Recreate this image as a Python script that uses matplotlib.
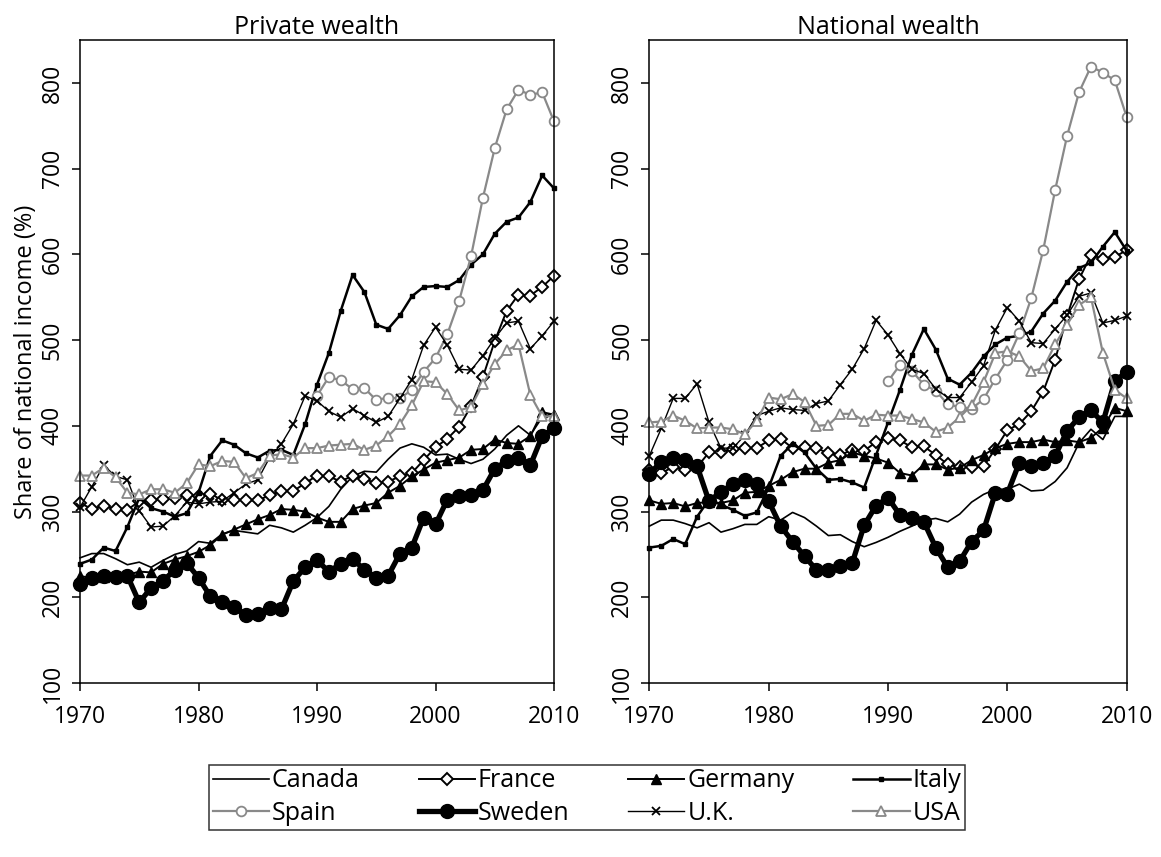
import numpy as np
import matplotlib
matplotlib.use('Agg')
import matplotlib.pyplot as plt
from matplotlib.lines import Line2D

plt.rcParams['font.family'] = ['Open Sans', 'DejaVu Sans']

years = np.arange(1970, 2011)
spain_years = np.arange(1990, 2011)

# private wealth, % of national income
canada_p = [246, 251, 251, 245, 238, 241, 235, 243, 250, 254, 265, 263, 274, 278, 276, 274, 284, 281, 276, 284,
            293, 306, 326, 341, 347, 346, 361, 374, 379, 375, 366, 367, 361, 356, 361, 373, 389, 400, 389, 410, 415]
france_p = [310, 303, 307, 303, 302, 312, 313, 315, 316, 319, 318, 321, 313, 314, 313, 313, 319, 324, 324, 333,
            342, 341, 335, 342, 338, 333, 335, 341, 345, 360, 375, 385, 399, 423, 457, 499, 534, 553, 552, 562, 575]
germany_p = [225, 222, 224, 225, 226, 230, 229, 239, 244, 248, 253, 261, 273, 279, 285, 291, 296, 303, 302, 300,
             293, 288, 288, 303, 307, 310, 322, 330, 341, 349, 357, 360, 363, 372, 373, 384, 380, 379, 388, 416, 413]
italy_p = [239, 244, 258, 254, 282, 316, 304, 300, 294, 298, 322, 365, 383, 378, 368, 363, 371, 372, 366, 402,
           448, 485, 534, 576, 556, 518, 513, 529, 551, 562, 563, 562, 570, 588, 600, 624, 638, 643, 661, 692, 677]
spain_p = [435, 457, 453, 443, 444, 430, 433, 432, 442, 463, 479, 507, 546, 598, 666, 724, 769, 792, 786, 789, 755]
sweden_p = [216, 223, 225, 224, 225, 194, 211, 219, 232, 240, 223, 201, 194, 189, 179, 180, 188, 186, 219, 235,
            243, 230, 239, 245, 232, 223, 225, 251, 258, 293, 285, 314, 318, 319, 325, 350, 359, 363, 354, 388, 397]
uk_p = [305, 329, 354, 341, 337, 301, 282, 283, 295, 311, 309, 311, 312, 322, 332, 337, 363, 379, 402, 435,
        429, 417, 410, 420, 412, 404, 411, 432, 454, 494, 515, 494, 466, 465, 482, 502, 520, 522, 490, 505, 522]
usa_p = [342, 342, 351, 340, 322, 320, 326, 326, 322, 333, 355, 353, 359, 358, 339, 345, 365, 367, 363, 374,
         374, 377, 378, 379, 372, 377, 388, 402, 424, 452, 451, 437, 418, 422, 449, 472, 488, 495, 436, 411, 411]

# national wealth, % of national income
canada_n = [283, 290, 290, 286, 281, 287, 276, 280, 285, 285, 294, 290, 299, 293, 283, 272, 273, 265, 259, 264,
            270, 277, 283, 290, 292, 288, 297, 311, 320, 326, 326, 332, 324, 325, 335, 351, 380, 396, 384, 411, 411]
france_n = [349, 345, 352, 349, 352, 369, 369, 373, 374, 374, 383, 385, 374, 375, 374, 368, 366, 372, 371, 381,
            386, 383, 375, 376, 366, 355, 352, 352, 353, 373, 395, 402, 417, 440, 477, 528, 571, 599, 595, 597, 605]
germany_n = [313, 309, 310, 306, 310, 311, 310, 313, 322, 323, 330, 337, 346, 350, 350, 357, 360, 369, 365, 362,
             357, 345, 342, 355, 355, 349, 351, 360, 366, 374, 379, 381, 381, 384, 381, 383, 381, 386, 398, 421, 417]
italy_n = [258, 260, 268, 262, 294, 314, 308, 302, 295, 299, 328, 365, 379, 369, 350, 337, 338, 334, 328, 366,
           404, 442, 483, 513, 489, 455, 448, 462, 481, 495, 503, 505, 510, 531, 546, 568, 584, 590, 609, 626, 604]
spain_n = [452, 471, 464, 448, 441, 425, 422, 420, 431, 455, 477, 508, 549, 605, 675, 738, 789, 819, 812, 803, 760]
sweden_n = [344, 358, 363, 360, 353, 312, 323, 332, 337, 332, 312, 283, 265, 248, 232, 232, 236, 240, 284, 307,
            316, 296, 293, 288, 258, 235, 242, 265, 278, 322, 321, 357, 353, 357, 365, 394, 410, 418, 404, 452, 463]
uk_n = [365, 397, 432, 432, 449, 404, 374, 374, 389, 412, 417, 421, 419, 418, 426, 429, 448, 466, 490, 523,
        506, 484, 466, 461, 443, 433, 433, 451, 470, 512, 538, 522, 497, 496, 513, 529, 551, 555, 520, 523, 528]
usa_n = [404, 405, 412, 406, 397, 398, 398, 396, 390, 406, 433, 431, 437, 428, 400, 401, 414, 414, 406, 413,
         412, 412, 408, 404, 393, 398, 410, 424, 451, 485, 487, 481, 464, 467, 495, 518, 541, 550, 485, 442, 432]

countries = ['Canada', 'France', 'Germany', 'Italy', 'Spain', 'Sweden', 'U.K.', 'USA']
private = [canada_p, france_p, germany_p, italy_p, spain_p, sweden_p, uk_p, usa_p]
national = [canada_n, france_n, germany_n, italy_n, spain_n, sweden_n, uk_n, usa_n]

GREY = '#898989'
styles = {
    'Canada': dict(color='black', lw=1.2),
    'France': dict(color='black', lw=1.4, marker='D', ms=6.5, mfc='white', mec='black', mew=1.4),
    'Germany': dict(color='black', lw=1.4, marker='^', ms=7.5, mfc='black', mec='black'),
    'Italy': dict(color='black', lw=1.8, marker='s', ms=3.5, mfc='black', mec='black'),
    'Spain': dict(color=GREY, lw=1.6, marker='o', ms=7, mfc='white', mec=GREY, mew=1.3),
    'Sweden': dict(color='black', lw=3.8, marker='o', ms=10, mfc='black', mec='black'),
    'U.K.': dict(color='black', lw=1.0, marker='x', ms=6, mec='black', mew=1.3),
    'USA': dict(color=GREY, lw=1.6, marker='^', ms=7.5, mfc='white', mec=GREY, mew=1.3),
}

fig = plt.figure(figsize=(11.61, 8.57), dpi=100)
ax1 = fig.add_axes([0.0689, 0.2030, 0.4083, 0.7503])
ax2 = fig.add_axes([0.5593, 0.2030, 0.4112, 0.7503])

for ax, data, title in [(ax1, private, 'Private wealth'), (ax2, national, 'National wealth')]:
    for name, vals in zip(countries, data):
        x = spain_years if name == 'Spain' else years
        ax.plot(x, vals, label=name, clip_on=False, **styles[name])
    ax.set_xlim(1970, 2010)
    ax.set_ylim(100, 850)
    ax.set_xticks([1970, 1980, 1990, 2000, 2010])
    ax.set_yticks(range(100, 801, 100))
    ax.tick_params(direction='out', length=6, width=1.1, labelsize=16.5)
    ax.tick_params(axis='x', pad=10)
    ax.tick_params(axis='y', labelrotation=90, pad=5)
    for lab in ax.get_yticklabels():
        lab.set_va('center')
    for sp in ax.spines.values():
        sp.set_linewidth(1.1)
    ax.set_title(title, fontsize=18, pad=3.5)

ax1.set_ylabel('Share of national income (%)', fontsize=17, labelpad=2)

# legend fills columns first, so reorder for row-wise reading
handles = [Line2D([], [], **styles[c]) for c in countries]
order = [0, 4, 1, 5, 2, 6, 3, 7]
leg = fig.legend([handles[i] for i in order], [countries[i] for i in order],
                 ncol=4, loc='center', bbox_to_anchor=(0.5056, 0.070), fontsize=18,
                 frameon=True, fancybox=False, edgecolor='black', handlelength=2.25,
                 handletextpad=0.12, columnspacing=2.35, labelspacing=0.3, borderpad=0.15)
leg.get_frame().set_linewidth(1.1)

fig.savefig('out.png', dpi=100)
